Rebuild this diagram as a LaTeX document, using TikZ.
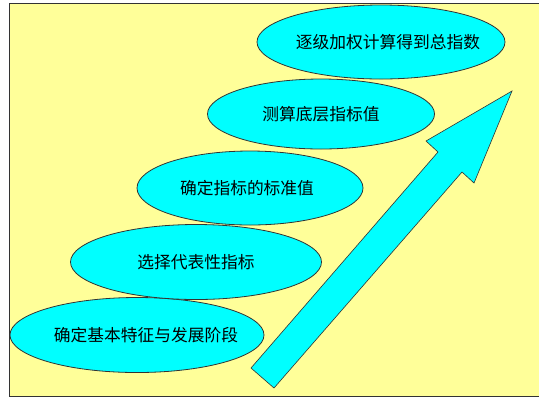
\documentclass[tikz,border=0pt]{standalone}
\usepackage{fontspec}
\usepackage{tikz}
\usetikzlibrary{shapes.geometric}
\newfontfamily\cjk{Noto Sans CJK SC}
\definecolor{stagecyan}{HTML}{00FFFF}
\definecolor{stageyellow}{HTML}{FFFF99}
\definecolor{stageline}{HTML}{333333}
\tikzset{
  stage/.style={ellipse, draw=stageline, line width=0.8bp, fill=stagecyan, inner sep=0pt},
  stagetext/.style={font=\cjk\fontsize{16.8}{19}\selectfont, inner sep=0pt},
  risearrow/.style={draw=stageline, line width=0.6bp, fill=stagecyan, line join=miter}
}

\begin{document}
\begin{tikzpicture}[x=1bp, y=-1bp]
\useasboundingbox (0,0) rectangle (539,398);
\clip (0,0) rectangle (539,398);
\fill[white] (0,0) rectangle (539,398);
\draw[stageline, fill=stageyellow, line width=1bp] (9.5,3.5) rectangle (560,396.5);

% the five stages, bottom to top
\node[stage, minimum width=254bp, minimum height=75bp] (base) at (137,335) {};
\node[stage, minimum width=251bp, minimum height=75bp] (pick) at (196,262) {};
\node[stage, minimum width=226bp, minimum height=74bp] (norm) at (250,188) {};
\node[stage, minimum width=227bp, minimum height=70bp] (calc) at (321,114) {};
\node[stage, minimum width=248bp, minimum height=74bp] (total) at (381,42) {};
\node[stagetext, xshift=9bp] at (base.center) {确定基本特征与发展阶段};
\node[stagetext] at (pick.center) {选择代表性指标};
\node[stagetext, xshift=-3bp] at (norm.center) {确定指标的标准值};
\node[stagetext] at (calc.center) {测算底层指标值};
\node[stagetext, xshift=7bp] at (total.center) {逐级加权计算得到总指数};

% rising arrow
\draw[risearrow] (251,368) -- (438,152) -- (426,141) -- (512,91)
  -- (474,183) -- (462,172) -- (274,388) -- cycle;
\end{tikzpicture}
\end{document}
